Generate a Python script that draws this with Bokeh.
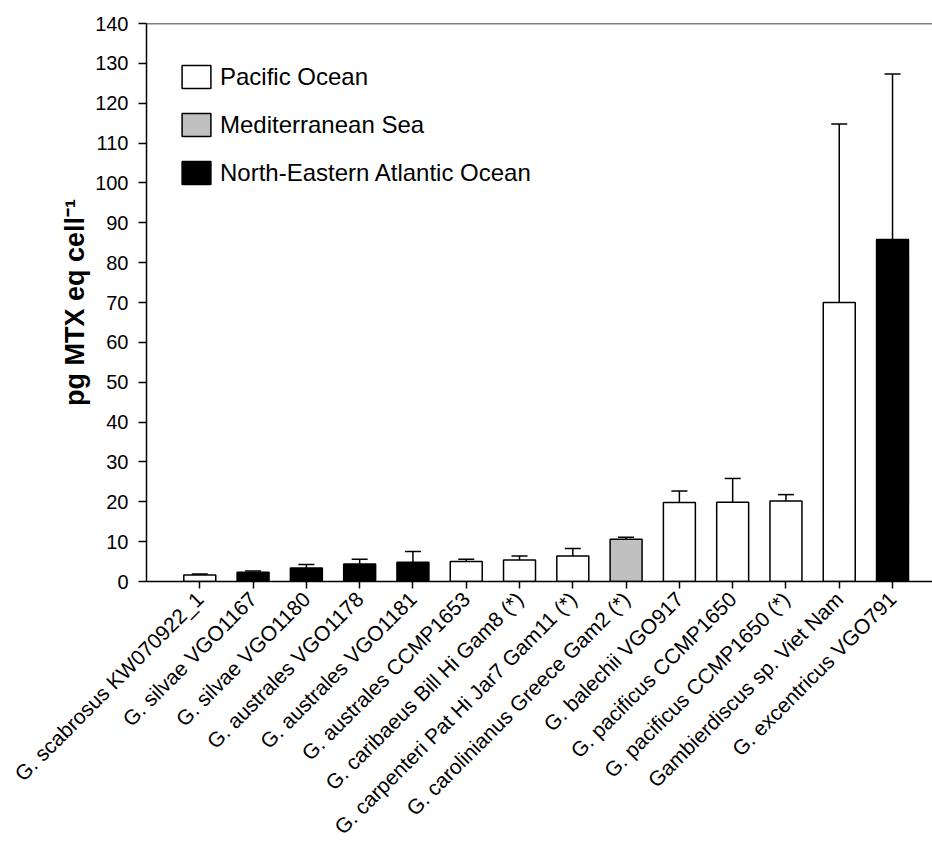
import numpy as np
from bokeh.plotting import figure
from bokeh.models import (Range1d, FixedTicker, Whisker, ColumnDataSource, Legend,
                          LegendItem, Span, TeeHead)
from bokeh.embed import file_html
from bokeh.resources import INLINE

strains = [
    "G. scabrosus KW070922_1",
    "G. silvae VGO1167",
    "G. silvae VGO1180",
    "G. australes VGO1178",
    "G. australes VGO1181",
    "G. australes CCMP1653",
    "G. caribaeus Bill Hi Gam8 (*)",
    "G. carpenteri Pat Hi Jar7 Gam11 (*)",
    "G. carolinianus Greece Gam2 (*)",
    "G. balechii VGO917",
    "G. pacificus CCMP1650",
    "G. pacificus CCMP1650 (*)",
    "Gambierdiscus sp. Viet Nam",
    "G. excentricus VGO791",
]
values = [1.6, 2.3, 3.4, 4.4, 4.8, 5.0, 5.4, 6.4, 10.6, 19.8, 19.9, 20.2, 70.0, 85.8]
errors = [0.3, 0.35, 0.85, 1.2, 2.75, 0.6, 1.0, 1.9, 0.5, 2.9, 5.95, 1.6, 44.8, 41.5]
regions = [
    "Pacific Ocean",
    "North-Eastern Atlantic Ocean",
    "North-Eastern Atlantic Ocean",
    "North-Eastern Atlantic Ocean",
    "North-Eastern Atlantic Ocean",
    "Pacific Ocean",
    "Pacific Ocean",
    "Pacific Ocean",
    "Mediterranean Sea",
    "Pacific Ocean",
    "Pacific Ocean",
    "Pacific Ocean",
    "Pacific Ocean",
    "North-Eastern Atlantic Ocean",
]
region_names = ["Pacific Ocean", "Mediterranean Sea", "North-Eastern Atlantic Ocean"]
region_colors = ["#ffffff", "#c0c0c0", "#000000"]
y_ticks = [0, 10, 20, 30, 40, 50, 60, 70, 80, 90, 100, 110, 120, 130, 140]

FONT = "Liberation Sans"
positions = list(range(1, len(strains) + 1))

p = figure(width=932, height=850,
           x_range=Range1d(0, 14.75), y_range=Range1d(0, 140),
           output_backend="svg", toolbar_location=None,
           min_border_left=146, min_border_top=23, min_border_right=0,
           min_border_bottom=269)
p.outline_line_color = None
p.xgrid.visible = False
p.ygrid.visible = False
p.background_fill_color = "white"
p.border_fill_color = "white"

# error bars (upper only)
err_src = ColumnDataSource(dict(
    x=positions,
    lower=values,
    upper=[v + e for v, e in zip(values, errors)],
))
whisk = Whisker(base="x", lower="lower", upper="upper", source=err_src,
                dimension="height", line_color="black", line_width=1.5,
                upper_head=TeeHead(size=16, line_color="black", line_width=1.5),
                lower_head=None, level="underlay")
p.add_layout(whisk)

items = []
for name, col in zip(region_names, region_colors):
    idx = [i for i, r in enumerate(regions) if r == name]
    src = ColumnDataSource(dict(x=[positions[i] for i in idx],
                                top=[values[i] for i in idx]))
    r = p.vbar(x="x", top="top", bottom=0, width=0.6, source=src,
               fill_color=col, line_color="black", line_width=1.5)
    items.append(LegendItem(label=name, renderers=[r]))

legend = Legend(items=items, location=(32, 394), padding=0, margin=0,
                spacing=19, glyph_width=36, glyph_height=29,
                label_text_font=FONT, label_text_font_size="24px",
                label_text_color="black",
                label_standoff=6, border_line_color=None,
                background_fill_alpha=0)
p.add_layout(legend)

p.add_layout(Span(location=140, dimension="width", line_color="black", line_width=1.5))

# x axis
p.xaxis.ticker = FixedTicker(ticks=positions)
p.xaxis.major_label_overrides = {pos: s for pos, s in zip(positions, strains)}
p.xaxis.major_label_orientation = np.pi / 4
p.xaxis.major_label_text_font = FONT
p.xaxis.major_label_text_font_size = "21px"
p.xaxis.major_label_text_color = "black"
p.xaxis.major_tick_in = 0
p.xaxis.major_tick_out = 7
p.xaxis.minor_tick_line_color = None
p.xaxis.axis_line_width = 1.5
p.xaxis.major_tick_line_width = 1.5
p.xaxis.major_label_standoff = 7

# y axis
p.yaxis.ticker = FixedTicker(ticks=y_ticks)
p.yaxis.major_label_text_font = FONT
p.yaxis.major_label_text_font_size = "20px"
p.yaxis.major_label_text_color = "black"
p.yaxis.major_tick_in = 0
p.yaxis.major_tick_out = 8
p.yaxis.minor_tick_line_color = None
p.yaxis.axis_line_width = 1.5
p.yaxis.major_tick_line_width = 1.5
p.yaxis.major_label_standoff = 10
p.yaxis.axis_label = "pg MTX eq cell\u207b\u00b9"
p.yaxis.axis_label_text_font = FONT
p.yaxis.axis_label_text_font_size = "27px"
p.yaxis.axis_label_text_font_style = "bold"
p.yaxis.axis_label_text_color = "black"
p.yaxis.axis_label_standoff = 2

open("out.html", "w").write(file_html(p, INLINE))
